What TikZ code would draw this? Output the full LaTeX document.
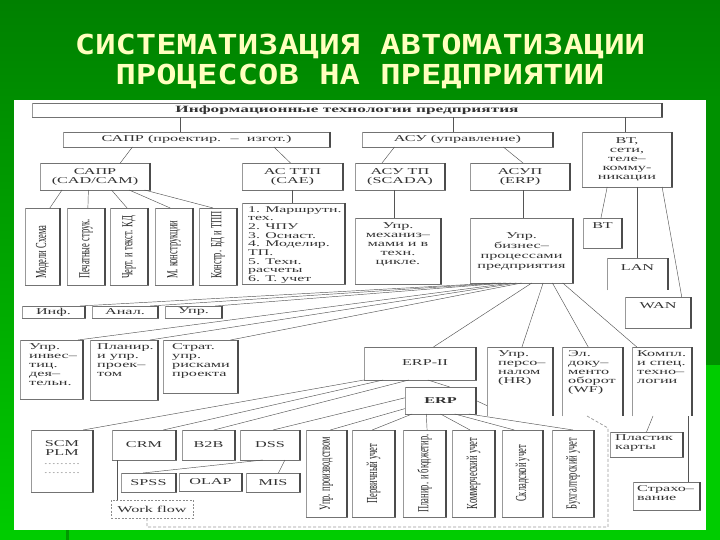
\documentclass[tikz,border=0pt]{standalone}
\usepackage{fontspec}
\usepackage{graphicx}
\usetikzlibrary{calc}
\newfontfamily\titlefont[FakeStretch=1.23]{DejaVu Sans Mono}
\newfontfamily\df[FakeStretch=1.8]{Liberation Serif}
\newfontfamily\vf{Liberation Serif}
\definecolor{bgdark}{RGB}{0,128,0}
\definecolor{bgmid}{RGB}{0,145,0}
\definecolor{bglight}{RGB}{0,204,0}
\definecolor{titlecol}{RGB}{255,255,190}
\definecolor{ln}{RGB}{85,85,85}
\tikzset{
  bx/.style={draw=black!55, line width=0.5pt, fill=white, inner sep=0pt, outer sep=0pt,
    font=\df\fontsize{9}{9}\selectfont, text=black!80, align=center},
  obx/.style={bx, draw=none},
  dbx/.style={bx, draw=black!45, dash pattern=on 2pt off 1.5pt},
  ltxt/.style={inner sep=0pt, font=\df\fontsize{9}{9}\selectfont, text=black!80, align=left},
  ctxt/.style={ltxt, align=center},
  vtxt/.style={rotate=90, inner sep=0pt, font=\vf\fontsize{8.5}{9}\selectfont, text=black!85},
  conn/.style={draw=ln, line width=0.45pt},
  dconn/.style={draw=black!40, line width=0.7pt, dash pattern=on 3pt off 2pt},
  lside/.style={draw=black!40, line width=1pt},
  rside/.style={draw=black!70, line width=1.3pt},
  osides/.style={draw=black!55, line width=0.5pt},
  ttl/.style={font=\titlefont\bfseries\fontsize{27.5}{30}\selectfont, text=titlecol, anchor=base, inner sep=0pt},
}
\newcommand\mybox[7][]{\node[bx,minimum width={#5-#3},minimum height={#6-#4},#1] (#2) at ({(#3+#5)/2},{(#4+#6)/2}) {#7};}
\begin{document}
\begin{tikzpicture}[x=1pt,y=-1pt]
\useasboundingbox (0,0) rectangle (720,540);
% background
\fill[top color=bgdark, bottom color=bglight] (0,0) rectangle (720,540);
\fill[bgmid] (706,100) rectangle (720,365);
\fill[bglight] (706,365) rectangle (720,540);
\fill[bglight] (0,530) rectangle (720,540);
\fill[green!60!black] (66,530) rectangle (69,540);
\fill[white] (14,100) rectangle (706,530);
% title
\node[ttl] (title1) at (360,55) {СИСТЕМАТИЗАЦИЯ АВТОМАТИЗАЦИИ};
\node[ttl] (title2) at (360,85) {ПРОЦЕССОВ НА ПРЕДПРИЯТИИ};
% row 0-2
\mybox[font=\df\bfseries\fontsize{9.6}{10}\selectfont]{top}{32}{103}{662}{117}{Информационные технологии предприятия}
\mybox{sapr}{63}{132}{330}{147}{САПР (проектир. \ – \ изгот.)}
\mybox{asu}{362}{132}{553}{147}{АСУ (управление)}
\mybox{vt}{582}{132}{672}{187}{ВТ,\\сети,\\теле–\\комму-\\никации}
\mybox{cad}{40}{163}{150}{190}{САПР\\(CAD/CAM)}
\mybox{cae}{242}{163}{343}{190}{АС ТТП\\(CAE)}
\mybox{scada}{355}{163}{445}{190}{АСУ ТП\\(SCADA)}
\mybox{erpz}{470}{163}{570}{190}{АСУП\\(ERP)}
% row 3
\mybox{v1}{25}{208}{60}{285}{}
\mybox{v2}{67}{208}{105}{285}{}
\mybox{v3}{110}{208}{148}{285}{}
\mybox{v4}{155}{208}{193}{285}{}
\mybox{v5}{199}{208}{237}{285}{}
\node[vtxt, anchor=west] (tv1) at ($(v1.south)+(0,-6)$) {\scalebox{1}[1.8]{Модели Схема}};
\node[vtxt, anchor=west] (tv2) at ($(v2.south)+(0,-6)$) {\scalebox{1}[1.8]{Печатные струк.}};
\node[vtxt, anchor=west] (tv3) at ($(v3.south)+(0,-6)$) {\scalebox{1}[1.8]{Черт. и текст. КД}};
\node[vtxt, anchor=west] (tv4) at ($(v4.south)+(0,-6)$) {\scalebox{1}[1.8]{М. конструкции}};
\node[vtxt, anchor=west] (tv5) at ($(v5.south)+(0,-6)$) {\scalebox{1}[1.8]{Констр. БД и ТПП}};
\mybox{list}{242}{203}{345}{284}{}
\node[ltxt, anchor=north west, font=\df\fontsize{8.8}{8.7}\selectfont] (tlist) at ($(list.north west)+(6,3)$) {1. Маршрутн.\\тех.\\2. ЧПУ\\3. Оснаст.\\4. Моделир.\\ТП.\\5. Техн.\\расчеты\\6. Т. учет};
\mybox{mech}{355}{218}{441}{284}{}
\node[ctxt, anchor=north] (tmech) at ($(mech.north)+(0,4)$) {Упр.\\механиз–\\мами и в\\техн.\\цикле.};
\mybox{biz}{470}{218}{573}{283}{}
\node[ctxt, anchor=north, font=\df\fontsize{9}{10.3}\selectfont] (tbiz) at ($(biz.north)+(0,14)$) {Упр.\\бизнес–\\процессами\\предприятия};
\mybox{bt}{583}{218}{622}{248}{}
\node[ctxt, anchor=north] (tbt) at ($(bt.north)+(0,4)$) {ВТ};
\mybox[obx]{lan}{607}{258}{668}{290}{}
\node[ctxt, anchor=north] (tlan) at ($(lan.north)+(0,6)$) {LAN};
\mybox{wan}{625}{297}{691}{328}{}
\node[ctxt, anchor=north] (twan) at ($(wan.north)+(0,5)$) {WAN};
% row 4
\mybox{inf}{22}{306}{85}{318}{Инф.}
\mybox{anal}{92}{306}{158}{318}{Анал.}
\mybox{upr}{165}{306}{222}{318}{Упр.}
% row 5
\mybox{inv}{20}{340}{83}{399}{}
\node[ltxt, anchor=north west] (tinv) at ($(inv.north west)+(9,3)$) {Упр.\\инвес–\\тиц.\\дея–\\тельн.};
\mybox{plan}{90}{340}{158}{400}{}
\node[ltxt, anchor=north west] (tplan) at ($(plan.north west)+(7,3)$) {Планир.\\и упр.\\проек–\\том};
\mybox{strat}{163}{340}{238}{393}{}
\node[ltxt, anchor=north west] (tstrat) at ($(strat.north west)+(9,3)$) {Страт.\\упр.\\рисками\\проекта};
\mybox{erp2}{364}{347}{476}{380}{}
\node[ctxt, anchor=north] (terp2) at ($(erp2.north)+(5,12)$) {ERP-II};
\mybox[font=\df\bfseries\fontsize{9}{9}\selectfont]{erp}{405}{387}{476}{414}{ERP}
\mybox[obx]{hr}{487}{347}{553}{416}{}
\node[ltxt, anchor=north west] (thr) at ($(hr.north west)+(11,3)$) {Упр.\\персо–\\налом\\(HR)};
\mybox[obx]{wf}{562}{347}{623}{416}{}
\node[ltxt, anchor=north west] (twf) at ($(wf.north west)+(6,3)$) {Эл.\\доку–\\менто\\оборот\\(WF)};
\mybox[obx]{kompl}{632}{347}{692}{416}{}
\node[ltxt, anchor=north west] (tkompl) at ($(kompl.north west)+(5,3)$) {Компл.\\и спец.\\техно–\\логии};
% row 6
\mybox{scm}{31}{430}{93}{492}{}
\node[ctxt, anchor=north] (tscm) at ($(scm.north)+(0,10)$) {SCM\\PLM\\{\color{black!35}.........}\\{\color{black!35}.........}};
\mybox{crm}{112}{430}{176}{460}{CRM}
\mybox{b2b}{182}{430}{235}{460}{B2B}
\mybox{dss}{240}{430}{300}{460}{DSS}
\mybox{spss}{121}{473}{176}{492}{SPSS}
\mybox{olap}{179}{473}{242}{491}{OLAP}
\mybox{mis}{246}{473}{300}{492}{MIS}
\mybox[dbx]{wflow}{111}{500}{193}{518}{Work flow}
\mybox{b1}{306}{430}{347}{517}{}
\mybox{b2}{352}{430}{395}{517}{}
\mybox{b3}{403}{430}{446}{517}{}
\mybox{b4}{452}{430}{495}{517}{}
\mybox{b5}{502}{430}{543}{517}{}
\mybox{b6}{552}{430}{594}{517}{}
\node[vtxt] (tb1) at (b1.center) {\scalebox{1}[1.8]{Упр. производством}};
\node[vtxt] (tb2) at (b2.center) {\scalebox{1}[1.8]{Первичный учет}};
\node[vtxt] (tb3) at (b3.center) {\scalebox{1}[1.8]{Планир. и бюджетир.}};
\node[vtxt] (tb4) at (b4.center) {\scalebox{1}[1.8]{Коммерческий учет}};
\node[vtxt] (tb5) at (b5.center) {\scalebox{1}[1.8]{Складской учет}};
\node[vtxt] (tb6) at (b6.center) {\scalebox{1}[1.8]{Бухгалтерский учет}};
\mybox{plast}{610}{432}{683}{457}{}
\node[ltxt, anchor=north west] (tplast) at ($(plast.north west)+(5,2)$) {Пластик\\карты};
\mybox{strah}{633}{482}{700}{510}{}
\node[ltxt, anchor=north west] (tstrah) at ($(strah.north west)+(4,3)$) {Страхо–\\вание};
% open boxes
\foreach \n in {lan,hr,wf,kompl}
  \draw[osides] (\n.south west) -- (\n.north west) -- (\n.north east) -- (\n.south east);
% shaded sides
\foreach \n in {top,sapr,asu,vt,cad,cae,scada,erpz,v1,v2,v3,v4,v5,list,mech,biz,bt,lan,wan,inf,anal,upr,inv,plan,strat,erp2,erp,hr,wf,kompl,scm,crm,b2b,dss,spss,olap,mis,b1,b2,b3,b4,b5,b6,plast,strah}{
  \draw[lside] (\n.north west) -- (\n.south west);
  \draw[rside] (\n.north east) -- (\n.south east);
}
% connectors
\coordinate (a1) at ($(sapr.north west)!.44!(sapr.north east)$);
\draw[conn] (a1) -- (a1 |- top.south);
\coordinate (a2) at ($(asu.north west)!.48!(asu.north east)$);
\draw[conn] (a2) -- (a2 |- top.south);
\coordinate (a3) at ($(vt.north west)!.48!(vt.north east)$);
\draw[conn] (a3) -- (a3 |- top.south);
\draw[conn] ($(sapr.south west)!.26!(sapr.south east)$) -- ($(cad.north west)!.73!(cad.north east)$);
\draw[conn] ($(sapr.south west)!.79!(sapr.south east)$) -- ($(cae.north west)!.48!(cae.north east)$);
\draw[conn] ($(asu.south west)!.17!(asu.south east)$) -- ($(scada.north west)!.3!(scada.north east)$);
\draw[conn] ($(asu.south west)!.74!(asu.south east)$) -- ($(erpz.north west)!.53!(erpz.north east)$);
\foreach \n/\s/\e in {v1/.2/.71, v2/.44/.55, v3/.65/.45, v4/.81/.4, v5/.95/.37}
  \draw[conn] ($(cad.south west)!\s!(cad.south east)$) -- ($(\n.north west)!\e!(\n.north east)$);
\coordinate (a4) at ($(cae.south west)!.5!(cae.south east)$);
\draw[conn] (a4) -- (a4 |- list.north);
\coordinate (a5) at ($(scada.south west)!.44!(scada.south east)$);
\draw[conn] (a5) -- (a5 |- mech.north);
\coordinate (a6) at ($(erpz.south west)!.53!(erpz.south east)$);
\draw[conn] (a6) -- (a6 |- biz.north);
\draw[conn] ($(vt.south west)!.28!(vt.south east)$) -- ($(bt.north west)!.46!(bt.north east)$);
\coordinate (a7) at ($(vt.south west)!.61!(vt.south east)$);
\draw[conn] (a7) -- (a7 |- lan.north);
\draw[conn] ($(vt.south west)!.89!(vt.south east)$) -- ($(wan.north west)!.86!(wan.north east)$);
\foreach \n/\s/\e in {inf/.25/.92, anal/.30/.88, upr/.35/.88, inv/.40/.92, plan/.45/.88, strat/.50/.9}
  \draw[conn] ($(biz.south west)!\s!(biz.south east)$) -- ($(\n.north west)!\e!(\n.north east)$);
\draw[conn] ($(biz.south west)!.6!(biz.south east)$) -- ($(erp2.north west)!.62!(erp2.north east)$);
\draw[conn] ($(biz.south west)!.71!(biz.south east)$) -- ($(hr.north west)!.53!(hr.north east)$);
\draw[conn] ($(biz.south west)!.8!(biz.south east)$) -- ($(wf.north west)!.43!(wf.north east)$);
\draw[conn] ($(biz.south west)!.9!(biz.south east)$) -- ($(kompl.north west)!.08!(kompl.north east)$);
\draw[conn] ($(erp2.south west)!.57!(erp2.south east)$) -- ($(erp.north west)!.63!(erp.north east)$);
\draw[conn] ($(erp.north east)!.5!(erp.south east)$) -- ($(hr.north west)!.85!(hr.south west)$);
\foreach \n/\s/\e in {scm/0/.84, crm/.17/.8, b2b/.4/.6}
  \draw[conn] ($(erp2.south west)!\s!(erp2.south east)$) -- ($(\n.north west)!\e!(\n.north east)$);
\foreach \n/\s/\e in {dss/.4/.55, b1/.8/.59}
  \draw[conn] ($(erp.north west)!\s!(erp.south west)$) -- ($(\n.north west)!\e!(\n.north east)$);
\foreach \n/\s/\e in {b2/.1/.47, b3/.3/.56, b4/.5/.42, b5/.7/.3, b6/.9/.5}
  \draw[conn] ($(erp.south west)!\s!(erp.south east)$) -- ($(\n.north west)!\e!(\n.north east)$);
\coordinate (a8) at ($(crm.south west)!.08!(crm.south east)$);
\draw[conn] (a8) -- (a8 |- wflow.north);
\draw[conn] ($(dss.south west)!.38!(dss.south east)$) -- ($(spss.north west)!.4!(spss.north east)$);
\draw[conn] ($(dss.south west)!.75!(dss.south east)$) -- ($(mis.north west)!.6!(mis.north east)$);
\draw[conn] ($(kompl.south west)!.35!(kompl.south east)$) -- ($(plast.north west)!.5!(plast.north east)$);
\coordinate (a9) at ($(kompl.south west)!.93!(kompl.south east)$);
\draw[conn] (a9) -- (a9 |- strah.north);
% dashed enclosure
\coordinate (dA) at (608,428);
\coordinate (dB) at (608,527);
\coordinate (dW) at ($(wflow.south west)!.44!(wflow.south east)$);
\draw[dconn] ($(wf.south west)!.41!(wf.south east)$) -- (dA) -- (dB) -- (dW |- dB) -- (dW);
\end{tikzpicture}
\end{document}
